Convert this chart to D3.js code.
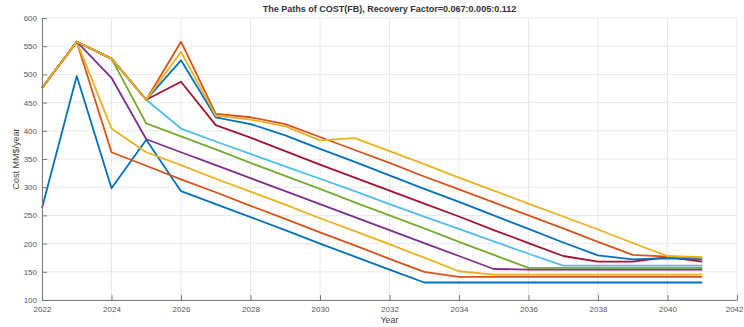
<!DOCTYPE html>
<html>
<head>
<meta charset="utf-8">
<script src="https://cdn.jsdelivr.net/npm/d3@7"></script>
<style>
  html, body { margin: 0; padding: 0; background: #fff; }
  svg { display: block; font-family: "Liberation Sans", Arial, sans-serif; }
</style>
</head>
<body>
<svg id="chart" width="744" height="327"></svg>
<script>
const years = [2022,2023,2024,2025,2026,2027,2028,2029,2030,2031,2032,2033,2034,2035,2036,2037,2038,2039,2040,2041];
const xTicks = [2022,2024,2026,2028,2030,2032,2034,2036,2038,2040,2042];
const yTicks = [100,150,200,250,300,350,400,450,500,550,600];
const titleText = "The Paths of COST(FB), Recovery Factor=0.067:0.005:0.112";
const xLabel = "Year";
const yLabel = "Cost MM$/year";

const s1  = [263,497,298,384,293,270,247,224,200,177,154,131,131,131,131,131,131,131,131,131];
const s2  = [476,558,362,338,314,291,267,244,220,197,173,150,141,141,141,141,141,141,141,141];
const s3  = [476,558,404,362,339,315,292,269,245,222,199,175,151,145,145,145,145,145,145,145];
const s4  = [476,558,494,385,362,339,316,293,270,247,224,201,178,155,154,154,154,154,154,154];
const s5  = [476,558,528,413,390,367,343,320,297,273,250,227,203,180,157,157,157,157,157,157];
const s6  = [476,558,528,455,404,381,359,337,315,293,270,248,226,204,182,161,161,161,161,161];
const s7  = [476,558,528,455,487,410,388,364,340,317,294,271,248,224,201,178,168,168,176,168];
const s8  = [476,558,528,455,525,424,412,392,368,345,321,297,274,250,226,202,179,172,174,172];
const s9  = [476,558,528,455,558,430,424,412,389,366,343,319,296,273,250,227,203,180,177,175];
const s10 = [476,558,528,455,540,427,420,408,383,387,364,341,317,294,271,248,225,201,178,176];
const series = [s1,s2,s3,s4,s5,s6,s7,s8,s9,s10];
const colors = ["#0072BD","#D95319","#EDB120","#7E2F8E","#77AC30","#4DBEEE","#A2142F","#0072BD","#D95319","#EDB120"];

const svg = d3.select("#chart");
const m = {left: 42, right: 737, top: 18, bottom: 300};

const x = d3.scaleLinear().domain([2022, 2042]).range([m.left, m.right]);
const y = d3.scaleLinear().domain([100, 600]).range([m.bottom, m.top]);

// grid
const grid = svg.append("g");
grid.selectAll(".gx").data(xTicks).enter().append("line")
  .attr("x1", d => x(d)).attr("x2", d => x(d))
  .attr("y1", m.top).attr("y2", m.bottom)
  .attr("stroke", "#e8e8e8").attr("stroke-width", 1);
grid.selectAll(".gy").data(yTicks).enter().append("line")
  .attr("x1", m.left).attr("x2", m.right)
  .attr("y1", d => y(d)).attr("y2", d => y(d))
  .attr("stroke", "#e8e8e8").attr("stroke-width", 1);

// lines
const line = d3.line().x((d, i) => x(years[i])).y(d => y(d));
series.forEach((s, k) => {
  svg.append("path").datum(s)
    .attr("d", line)
    .attr("fill", "none")
    .attr("stroke", colors[k])
    .attr("stroke-width", 1.8)
    .attr("stroke-linejoin", "round");
});

// axes
const xAxis = d3.axisBottom(x).tickValues(xTicks).tickFormat(d3.format("d")).tickSizeInner(-5).tickSizeOuter(0).tickPadding(6);
const yAxis = d3.axisLeft(y).tickValues(yTicks).tickSizeInner(-5).tickSizeOuter(0).tickPadding(5);

const gx = svg.append("g").attr("transform", `translate(0,${m.bottom})`).call(xAxis);
const gy = svg.append("g").attr("transform", `translate(${m.left},0)`).call(yAxis);
[gx, gy].forEach(g => {
  g.select(".domain").attr("stroke", "#7a7a7a").attr("stroke-width", 1);
  g.selectAll(".tick line").attr("stroke", "#7a7a7a");
  g.selectAll(".tick text").attr("fill", "#555").attr("font-size", 8)
    .attr("font-family", "Liberation Sans, Arial, sans-serif");
});
// keep the last x tick label inside the window
gx.selectAll(".tick text").filter(d => d === 2042).attr("text-anchor", "end").attr("dx", "6");

// title
svg.append("text")
  .attr("x", (m.left + m.right) / 2).attr("y", 12)
  .attr("text-anchor", "middle")
  .attr("font-size", 9).attr("font-weight", "bold").attr("fill", "#333")
  .text(titleText);

// x label
svg.append("text")
  .attr("x", (m.left + m.right) / 2).attr("y", 323)
  .attr("text-anchor", "middle")
  .attr("font-size", 9).attr("fill", "#444")
  .text(xLabel);

// y label
svg.append("text")
  .attr("transform", `translate(19,${(m.top + m.bottom) / 2}) rotate(-90)`)
  .attr("text-anchor", "middle")
  .attr("font-size", 9).attr("fill", "#444")
  .text(yLabel);
</script>
</body>
</html>
